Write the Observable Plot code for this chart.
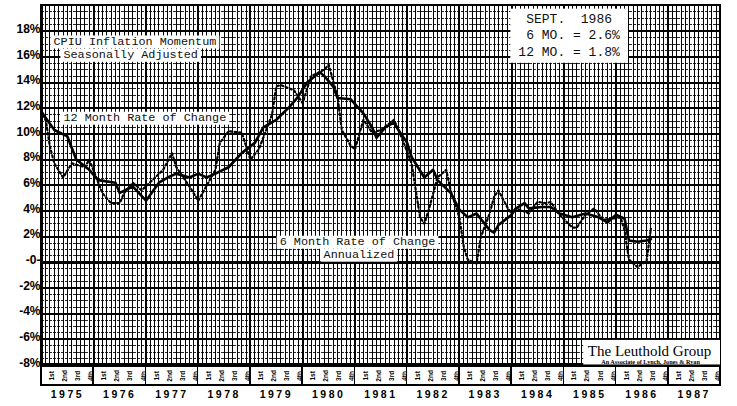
<!DOCTYPE html>
<html><head><meta charset="utf-8">
<script src="https://cdn.jsdelivr.net/npm/d3@7"></script>
<script src="https://cdn.jsdelivr.net/npm/@observablehq/plot@0.6"></script>
<style>
body{margin:0;background:#fff;}
svg{display:block}
svg text{white-space:pre}
</style>
</head><body><div id="chart"></div>
<script>
// ---- data ----
const twelveMonthDates = ["1975-01","1975-04","1975-07","1975-09","1975-12","1976-02","1976-06","1976-07","1976-10","1977-01","1977-04","1977-06","1977-08","1977-11","1978-01","1978-03","1978-05","1978-08","1978-11","1979-02","1979-04","1979-06","1979-07","1979-10","1979-12","1980-02","1980-05","1980-06","1980-08","1980-09","1980-12","1981-03","1981-05","1981-06","1981-08","1981-10","1981-11","1982-01","1982-02","1982-05","1982-07","1982-08","1982-11","1983-01","1983-03","1983-05","1983-08","1983-09","1983-10","1984-01","1984-02","1984-04","1984-05","1984-08","1984-10","1984-12","1985-03","1985-05","1985-06","1985-09","1985-11","1986-01","1986-03","1986-04","1986-06","1986-08","1986-09"];
const twelveMonthValues = [11.7,10.3,9.8,8.0,7.2,6.4,6.2,5.4,5.9,4.8,6.2,6.6,6.9,6.6,6.9,6.6,6.9,7.4,8.5,9.3,10.5,10.9,11.1,12.1,12.9,14.0,14.8,14.5,13.7,12.8,12.7,11.6,10.5,9.7,10.5,10.9,10.3,9.3,8.2,6.6,7.2,6.4,5.4,4.1,3.5,3.8,2.5,2.3,2.9,3.7,4.2,4.6,4.2,4.3,4.3,3.8,3.5,3.7,3.8,3.5,3.1,3.7,3.4,1.7,1.6,1.7,1.8];

const sixMonthDates = ["1975-01","1975-02","1975-03","1975-04","1975-06","1975-08","1975-11","1975-12","1976-03","1976-05","1976-07","1976-08","1976-10","1976-12","1977-05","1977-07","1977-08","1977-11","1978-01","1978-02","1978-05","1978-06","1978-08","1978-11","1979-01","1979-03","1979-06","1979-07","1979-08","1979-11","1980-01","1980-03","1980-06","1980-07","1980-09","1980-10","1980-12","1981-01","1981-03","1981-05","1981-07","1981-10","1981-12","1982-02","1982-04","1982-05","1982-06","1982-08","1982-10","1982-11","1983-01","1983-02","1983-03","1983-05","1983-06","1983-08","1983-09","1983-10","1983-12","1984-01","1984-02","1984-05","1984-07","1984-09","1984-10","1984-12","1985-03","1985-04","1985-06","1985-08","1985-10","1985-12","1986-02","1986-03","1986-04","1986-06","1986-07","1986-08","1986-09"];
const sixMonthValues = [11.8,11.0,9.0,7.7,6.6,7.7,7.4,8.0,5.4,4.6,4.6,5.4,6.2,5.6,7.2,8.5,7.4,5.9,4.8,5.4,7.2,9.3,10.2,10.1,8.0,8.8,11.5,13.7,13.8,13.4,12.4,14.5,15.0,15.4,12.9,10.3,9.1,8.8,11.1,10.1,10.3,11.1,9.5,7.7,3.5,3.0,4.1,6.6,7.2,5.6,3.5,1.2,0.2,-0.1,2.0,3.8,5.1,5.6,4.3,3.8,4.2,3.8,4.7,4.6,4.7,3.7,2.7,2.7,3.7,4.2,3.3,3.4,3.5,2.5,0.2,-0.4,-0.1,0.0,2.6];

const yTicks = [-8,-6,-4,-2,0,2,4,6,8,10,12,14,16,18];
const yearLabels = ["1975","1976","1977","1978","1979","1980","1981","1982","1983","1984","1985","1986","1987"];
const quarterLabels = ["1st","2nd","3rd","4th"];
const titleLine1 = "CPIU Inflation Momentum";
const titleLine2 = "Seasonally Adjusted";
const label12 = "12 Month Rate of Change";
const label6a = "6 Month Rate of Change";
const label6b = "Annualized";
const latestLines = [" SEPT.  1986"," 6 MO. = 2.6%","12 MO. = 1.8%"];
const sourceName = "The Leuthold Group";
const sourceSub = "An Associate of Lynch, Jones & Ryan";

// ---- build tables ----
const parse = d3.utcParse("%Y-%m");
const twelve = twelveMonthDates.map((d,i)=>({date:parse(d), value:twelveMonthValues[i]}));
const six = sixMonthDates.map((d,i)=>({date:parse(d), value:sixMonthValues[i]}));

const yr = v => { const y = Math.floor(v); const a = Date.UTC(y,0,1), b = Date.UTC(y+1,0,1); return new Date(a + (v-y)*(b-a)); };
const years = yearLabels.map(Number);
const x0 = new Date(Date.UTC(1975,0,1)), x1 = new Date(Date.UTC(1988,0,1));
const months = d3.utcMonth.range(new Date(Date.UTC(1975,1,1)), x1);
const yearStarts = years.map(y => new Date(Date.UTC(y,0,1)));
const minorY = d3.range(-7.5, 20, 0.5).filter(v => v % 2 !== 0);
const majorY = d3.range(-6, 20, 2).filter(v => v !== 0);
const quarters = years.flatMap(y => quarterLabels.map((q,i)=>({date: yr(y + (3*(i+1)-0.6)/12), q})));
const midYears = years.map(y => new Date(Date.UTC(y,6,1)));

const mono = "Liberation Mono, Courier New, monospace";
const crisp = {shapeRendering: "crispEdges"};

const svg = Plot.plot({
  width: 737, height: 406,
  marginLeft: 41, marginRight: 17, marginTop: 5, marginBottom: 21,
  style: {fontFamily: "Liberation Sans, Arial, sans-serif", background: "#fff", color: "#000"},
  x: {type: "utc", domain: [x0, x1]},
  y: {domain: [-9.6, 20]},
  marks: [
    // graph-paper grid
    Plot.ruleY(minorY, {x1: x0, x2: x1, stroke: "#000", strokeWidth: 1, strokeOpacity: 0.85, strokeDasharray: "3,1", ...crisp}),
    Plot.ruleX(months, {y1: -8, y2: 20, stroke: "#000", strokeWidth: 1, ...crisp}),
    Plot.ruleX(yearStarts, {y1: -8, y2: 20, stroke: "#000", strokeWidth: 2, ...crisp}),
    Plot.ruleY(majorY, {x1: x0, x2: x1, stroke: "#000", strokeWidth: 2, ...crisp}),
    Plot.ruleY([0], {x1: x0, x2: x1, stroke: "#000", strokeWidth: 3.4, ...crisp}),
    Plot.rect([0], {x1: x0, x2: x1, y1: -8, y2: 20, fill: "none", stroke: "#000", strokeWidth: 2.8, ...crisp}),
    // quarter strip
    Plot.rect(years, {x1: d => yr(d), x2: d => yr(d+1), y1: -9.6, y2: -8.15, fill: "#fff", stroke: "#000", strokeWidth: 1.5, ...crisp}),
    Plot.text(quarters, {x: "date", y: -8.85, text: "q", rotate: -90, fontSize: 6.5, fontWeight: "bold", fill: "#000"}),
    // series
    Plot.line(six, {x: "date", y: "value", stroke: "#000", strokeWidth: 2.2, strokeDasharray: "2,2.6"}),
    Plot.line(twelve, {x: "date", y: "value", stroke: "#000", strokeWidth: 2.6}),
    // annotation boxes
    Plot.text([titleLine1], {x: yr(1975.23), y: 17.22, text: d => d, textAnchor: "start", lineAnchor: "middle", fontFamily: mono, fontSize: 11.8, fill: "#111", className: "boxS"}),
    Plot.text([titleLine2], {x: yr(1975.42), y: 16.18, text: d => d, textAnchor: "start", lineAnchor: "middle", fontFamily: mono, fontSize: 11.8, fill: "#111", className: "boxS"}),
    Plot.text([label12], {x: yr(1975.42), y: 11.28, text: d => d, textAnchor: "start", lineAnchor: "middle", fontFamily: mono, fontSize: 11.8, fill: "#111", className: "boxS"}),
    Plot.text([label6a], {x: yr(1979.56), y: 1.62, text: d => d, textAnchor: "start", lineAnchor: "middle", fontFamily: mono, fontSize: 11.8, fill: "#111", className: "boxS"}),
    Plot.text([label6b], {x: yr(1980.40), y: 0.61, text: d => d, textAnchor: "start", lineAnchor: "middle", fontFamily: mono, fontSize: 11.8, fill: "#111", className: "boxS"}),
    Plot.text(latestLines, {x: yr(1984.13), y: (d,i) => 18.99 - i*1.29, text: d => d, textAnchor: "start", lineAnchor: "middle", fontFamily: mono, fontSize: 13, fill: "#111", className: "boxL"}),
    // source box
    Plot.rect([0], {x1: yr(1985.38), x2: x1, y1: -8, y2: -6.09, fill: "#fff"}),
    Plot.text([sourceName], {x: yr(1986.64), y: -6.95, text: d => d, fontFamily: "Liberation Serif, Times New Roman, serif", fontSize: 15, fill: "#000"}),
    Plot.text([sourceSub], {x: yr(1986.66), y: -7.78, text: d => d, fontFamily: "Liberation Serif, Times New Roman, serif", fontSize: 6.2, fontWeight: "bold", fill: "#000"}),
    // axes
    Plot.axisY({ticks: yTicks, tickSize: 0, tickPadding: 1, tickFormat: d => d === 0 ? "-0-" : d + "%", fontSize: 12, fontWeight: "bold", dy: -2, label: null}),
    Plot.axisX({ticks: midYears, tickSize: 0, tickPadding: 5, tickFormat: d => yearLabels[years.indexOf(d.getUTCFullYear())], fontSize: 10.5, fontWeight: "bold", label: null})
  ]
});
document.getElementById("chart").append(svg);

// white label boxes behind the annotation texts
const s = d3.select(svg);
s.selectAll("g.boxS, g.boxL").each(function() {
  const g = d3.select(this);
  const b = this.getBBox();
  const big = g.classed("boxL");
  const px = big ? 8 : 3, py = big ? 3 : 0;
  g.insert("rect", ":first-child")
    .attr("x", b.x - px).attr("y", b.y - py + (big ? 0 : 0.5))
    .attr("width", b.width + 2*px).attr("height", b.height + 2*py - (big ? 0 : 1))
    .attr("fill", "#fff");
});
s.selectAll("[aria-label='x-axis tick label'] text").attr("letter-spacing", "2.5px");
</script>
</body></html>
